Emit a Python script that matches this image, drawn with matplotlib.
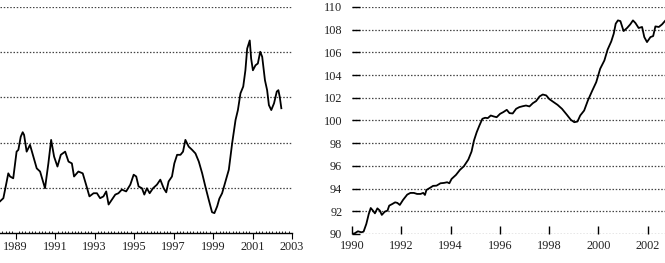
import numpy as np
import matplotlib
matplotlib.use("Agg")
import matplotlib.pyplot as plt
from matplotlib.ticker import MultipleLocator

plt.rcParams['font.family'] = ['Liberation Serif', 'DejaVu Serif']
plt.rcParams['font.size'] = 8.8

left_year = [1988.21, 1988.38, 1988.55, 1988.63, 1988.72, 1988.88, 1989.05, 1989.14,
             1989.26, 1989.36, 1989.43, 1989.56, 1989.73, 1989.90, 1990.07, 1990.24,
             1990.49, 1990.66, 1990.80, 1990.95, 1991.12, 1991.29, 1991.51, 1991.68,
             1991.85, 1991.96, 1992.18, 1992.40, 1992.57, 1992.74, 1992.95, 1993.12,
             1993.28, 1993.45, 1993.59, 1993.71, 1993.88, 1994.05, 1994.21, 1994.38,
             1994.60, 1994.81, 1994.98, 1995.11, 1995.23, 1995.40, 1995.52, 1995.65,
             1995.79, 1995.96, 1996.16, 1996.33, 1996.50, 1996.63, 1996.75, 1996.92,
             1997.04, 1997.18, 1997.35, 1997.48, 1997.60, 1997.77, 1997.94, 1998.11,
             1998.28, 1998.45, 1998.61, 1998.78, 1998.95, 1999.07, 1999.21, 1999.32,
             1999.46, 1999.63, 1999.80, 1999.97, 2000.14, 2000.26, 2000.39, 2000.53,
             2000.64, 2000.73, 2000.86, 2000.93, 2001.02, 2001.15, 2001.27, 2001.39,
             2001.49, 2001.63, 2001.74, 2001.83, 2001.95, 2002.09, 2002.23, 2002.31,
             2002.38, 2002.46]
left_value = [87.0, 87.7, 91.4, 93.2, 92.5, 92.1, 98.0, 98.4,
              101.3, 102.3, 101.7, 98.0, 99.5, 96.9, 94.3, 93.6,
              89.9, 95.4, 100.6, 96.9, 94.7, 97.3, 98.0, 95.8,
              95.4, 92.5, 93.6, 93.2, 90.7, 88.1, 88.8, 88.8,
              87.7, 88.1, 89.2, 86.3, 87.4, 88.5, 88.8, 89.6,
              89.2, 90.7, 92.9, 92.5, 90.3, 89.9, 88.5, 89.9,
              88.8, 89.9, 90.7, 91.8, 89.9, 89.0, 91.4, 92.5,
              95.4, 97.3, 97.3, 98.0, 100.6, 99.1, 98.4, 97.6,
              95.8, 93.2, 90.3, 87.4, 84.6, 84.4, 85.9, 87.6,
              88.8, 91.4, 94.0, 99.9, 105.0, 107.2, 110.9, 112.4,
              116.0, 120.8, 122.6, 118.6, 116.0, 117.1, 117.5, 120.1,
              119.0, 113.8, 111.6, 108.3, 107.2, 108.7, 111.3, 111.6,
              110.1, 107.6]

# Right panel: index, 90..110
right_year = [1990.00, 1990.11, 1990.24, 1990.38, 1990.47, 1990.58, 1990.68, 1990.76,
              1990.85, 1990.93, 1991.03, 1991.13, 1991.21, 1991.33, 1991.44, 1991.51,
              1991.64, 1991.75, 1991.84, 1991.94, 1992.07, 1992.24, 1992.37, 1992.51,
              1992.64, 1992.78, 1992.89, 1992.96, 1993.02, 1993.16, 1993.29, 1993.43,
              1993.59, 1993.73, 1993.86, 1993.95, 1994.04, 1994.22, 1994.38, 1994.54,
              1994.72, 1994.85, 1994.95, 1995.06, 1995.17, 1995.29, 1995.40, 1995.51,
              1995.63, 1995.76, 1995.87, 1996.01, 1996.14, 1996.28, 1996.39, 1996.52,
              1996.66, 1996.79, 1996.93, 1997.06, 1997.20, 1997.34, 1997.47, 1997.61,
              1997.74, 1997.88, 1998.01, 1998.18, 1998.34, 1998.52, 1998.72, 1998.88,
              1999.02, 1999.15, 1999.26, 1999.42, 1999.57, 1999.74, 1999.91, 2000.07,
              2000.24, 2000.37, 2000.52, 2000.62, 2000.70, 2000.79, 2000.89, 2001.02,
              2001.16, 2001.29, 2001.40, 2001.50, 2001.63, 2001.77, 2001.86, 2001.97,
              2002.11, 2002.22, 2002.31, 2002.45, 2002.58, 2002.72]
right_value = [90.00, 90.06, 90.24, 90.15, 90.21, 90.88, 91.76, 92.29,
               92.06, 91.82, 92.26, 92.06, 91.68, 91.97, 92.06, 92.50,
               92.65, 92.79, 92.74, 92.56, 93.00, 93.47, 93.62, 93.62,
               93.53, 93.53, 93.62, 93.44, 93.88, 94.06, 94.24, 94.26,
               94.47, 94.50, 94.56, 94.47, 94.85, 95.21, 95.65, 95.97,
               96.56, 97.26, 98.24, 98.97, 99.56, 100.15, 100.24, 100.21,
               100.44, 100.35, 100.29, 100.59, 100.74, 100.94, 100.65, 100.62,
               101.03, 101.18, 101.26, 101.32, 101.24, 101.53, 101.71, 102.12,
               102.29, 102.21, 101.88, 101.62, 101.38, 101.03, 100.50, 100.06,
               99.85, 99.91, 100.44, 100.88, 101.76, 102.59, 103.38, 104.56,
               105.29, 106.24, 106.97, 107.65, 108.53, 108.82, 108.76, 107.88,
               108.15, 108.47, 108.82, 108.59, 108.15, 108.24, 107.35, 106.91,
               107.35, 107.44, 108.29, 108.24, 108.47, 108.82]

left_xticks = [1989, 1991, 1993, 1995, 1997, 1999, 2001, 2003]
left_grid = [90, 100, 110, 120, 130]
right_xticks = [1990, 1992, 1994, 1996, 1998, 2000, 2002]
right_yticks = [90, 92, 94, 96, 98, 100, 102, 104, 106, 108, 110]

W, H = 665, 263
fig = plt.figure(figsize=(W / 100, H / 100), dpi=100)

dots = dict(color='#444444', lw=0.9, linestyle=(0, (1.2, 1.4)))

# ---- left panel
ax1 = fig.add_axes([0, 30 / H, 292 / W, 226 / H])
for g in left_grid:
    ax1.axhline(g, zorder=1, **dots)
ax1.plot(left_year, left_value, color='black', lw=1.3, zorder=3)
ax1.set_xlim(1988.21, 2003.0)
ax1.set_ylim(80, 130)
ax1.set_xticks(left_xticks)
ax1.set_xticklabels([str(t) for t in left_xticks], color='#222222')
ax1.xaxis.set_minor_locator(MultipleLocator(1 / 6))
ax1.tick_params(axis='x', which='major', direction='out', length=4, width=0.8, pad=2)
ax1.tick_params(axis='x', which='minor', direction='in', length=1.6, width=0.6)
ax1.set_yticks([])
for s in ['left', 'right', 'top']:
    ax1.spines[s].set_visible(False)
ax1.spines['bottom'].set_linewidth(1.0)
ax1.patch.set_alpha(0)

# ---- right panel
ax2 = fig.add_axes([352 / W, 29 / H, (W - 352) / W, 227 / H])
for g in right_yticks:
    ax2.axhline(g, zorder=1, **dots)
ax2.plot(right_year, right_value, color='black', lw=1.3, zorder=3)
ax2.set_xlim(1990, 2002.7)
ax2.set_ylim(90, 110)
ax2.set_xticks(right_xticks)
ax2.set_xticklabels([str(t) for t in right_xticks], color='#222222')
ax2.set_yticks(right_yticks)
ax2.set_yticklabels([str(t) for t in right_yticks], color='#222222')
ax2.tick_params(axis='x', direction='in', length=6, width=1.0, pad=4)
ax2.tick_params(axis='y', direction='in', length=6, width=1.0, pad=7)
for s in ax2.spines.values():
    s.set_visible(False)
ax2.patch.set_alpha(0)

fig.savefig('out.png', dpi=100)
